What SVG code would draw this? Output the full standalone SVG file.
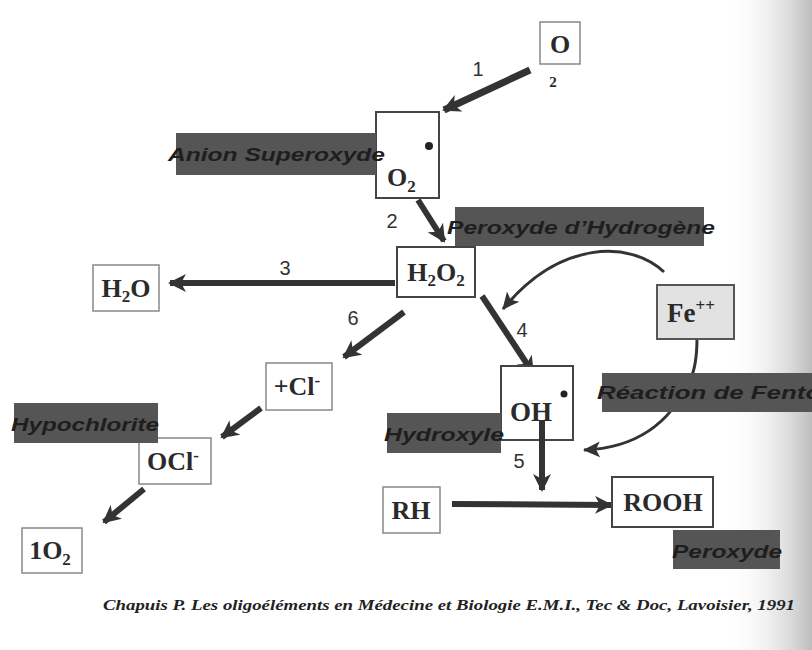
<svg xmlns="http://www.w3.org/2000/svg" width="812" height="650" viewBox="0 0 812 650">
<style>
.box{fill:#fff;stroke:#888;stroke-width:1.5}
.boxd{fill:#fff;stroke:#444;stroke-width:2}
.chem{font-family:"Liberation Serif",serif;font-weight:bold;font-size:26px;fill:#2a2a2a}
.sub{font-size:17px}
.lab{fill:#555}
.labt{font-family:"Liberation Sans",Arial,sans-serif;font-weight:bold;font-style:italic;font-size:18px;fill:#1e1e1e}
.num{font-family:"Liberation Sans",Arial,sans-serif;font-size:20px;fill:#333}
.arr{stroke:#333;stroke-width:6;fill:none;marker-end:url(#ah)}
.arrt{stroke:#333;stroke-width:3;fill:none}
.cap{font-family:"Liberation Serif",serif;font-weight:bold;font-style:italic;font-size:15px;fill:#222}
</style>
<defs>
<marker id="ah" markerUnits="userSpaceOnUse" markerWidth="20" markerHeight="18" refX="16" refY="9" orient="auto">
<path d="M0,0 L18,9 L0,18 L5,9 Z" fill="#333"/>
</marker>
<marker id="ah2" markerUnits="userSpaceOnUse" markerWidth="20" markerHeight="18" refX="16" refY="9" orient="auto">
<path d="M0,1 L17,9 L0,17 L4,9 Z" fill="#333"/>
</marker>
<linearGradient id="shade" x1="0" y1="0" x2="1" y2="0">
<stop offset="0" stop-color="#fff" stop-opacity="0"/>
<stop offset="1" stop-color="#bdbdbd"/>
</linearGradient>
</defs>
<rect width="812" height="650" fill="#fff"/>
<rect x="725" y="0" width="87" height="650" fill="url(#shade)"/>

<g id="connectors">
<line class="arr" x1="530" y1="70" x2="444" y2="110" style="stroke-width:7"/>
<line class="arr" x1="418" y1="200" x2="444" y2="241"/>
<line class="arr" x1="395" y1="283" x2="170" y2="283"/>
<line class="arr" x1="404" y1="312" x2="344" y2="357"/>
<line class="arr" x1="482" y1="296" x2="533" y2="373"/>
<line class="arr" x1="261" y1="408" x2="222" y2="437"/>
<line class="arr" x1="144" y1="489" x2="104" y2="522"/>
<line class="arr" x1="452" y1="504" x2="611" y2="505"/>
<path class="arrt" d="M664,272 C630,240 560,240 503,309" marker-end="url(#ah2)"/>
<path class="arrt" d="M697,338 C697,360 694,372 690,380 C672,420 640,448 584,450" marker-end="url(#ah2)"/>
</g>

<g id="n-o2">
<rect class="box" x="540" y="22" width="40" height="42"/>
<text class="chem" x="560" y="53" text-anchor="middle">O</text>
<text class="chem" x="553" y="87" text-anchor="middle" style="font-size:15px">2</text>
</g>
<text class="num" x="478" y="76" text-anchor="middle">1</text>

<g id="n-o2rad">
<rect class="boxd" x="376" y="112" width="63" height="86"/>
<text class="chem" x="387" y="186">O<tspan class="sub" dy="6">2</tspan></text>
<circle cx="429" cy="146" r="4" fill="#222"/>
</g>
<g id="lab-anion">
<rect class="lab" x="176" y="133" width="200" height="42"/>
<text class="labt" x="168" y="161" textLength="217" lengthAdjust="spacingAndGlyphs">Anion Superoxyde</text>
</g>
<text class="num" x="392" y="228" text-anchor="middle">2</text>

<g id="lab-peroxyde-h">
<rect class="lab" x="455" y="207" width="249" height="39"/>
<text class="labt" x="447" y="234" textLength="268" lengthAdjust="spacingAndGlyphs">Peroxyde d’Hydrogène</text>
</g>
<g id="n-h2o2">
<rect class="boxd" x="397" y="247" width="78" height="50"/>
<text class="chem" x="436" y="281" text-anchor="middle">H<tspan class="sub" dy="5">2</tspan><tspan dy="-5">O</tspan><tspan class="sub" dy="5">2</tspan></text>
</g>
<text class="num" x="285" y="275" text-anchor="middle">3</text>

<g id="n-h2o">
<rect class="box" x="93" y="265" width="66" height="46"/>
<text class="chem" x="126" y="297" text-anchor="middle">H<tspan class="sub" dy="5">2</tspan><tspan dy="-5">O</tspan></text>
</g>

<text class="num" x="353" y="325" text-anchor="middle">6</text>
<text class="num" x="522" y="337" text-anchor="middle">4</text>

<g id="n-fe">
<rect x="657" y="285" width="77" height="54" fill="#e2e2e2" stroke="#555" stroke-width="2"/>
<text class="chem" x="667" y="322" style="font-size:27px">Fe<tspan class="sub" dy="-11">++</tspan></text>
</g>

<g id="n-cl">
<rect class="box" x="266" y="363" width="66" height="47"/>
<text class="chem" x="297" y="395" text-anchor="middle">+Cl<tspan class="sub" dy="-9">-</tspan></text>
</g>

<g id="n-ocl">
<rect class="box" x="139" y="438" width="72" height="46"/>
<text class="chem" x="173" y="470" text-anchor="middle">OCl<tspan class="sub" dy="-9">-</tspan></text>
</g>
<g id="lab-hypo">
<rect class="lab" x="14" y="403" width="144" height="40"/>
<text class="labt" x="11" y="431" textLength="148" lengthAdjust="spacingAndGlyphs">Hypochlorite</text>
</g>

<g id="n-1o2">
<rect class="box" x="22" y="528" width="60" height="45"/>
<text class="chem" x="50" y="559" text-anchor="middle">1O<tspan class="sub" dy="6">2</tspan></text>
</g>

<g id="lab-fenton">
<rect class="lab" x="602" y="373" width="210" height="39"/>
<text class="labt" x="597" y="399" textLength="240" lengthAdjust="spacingAndGlyphs">Réaction de Fenton</text>
</g>

<g id="n-oh">
<rect class="boxd" x="501" y="366" width="72" height="74"/>
<text class="chem" x="510" y="421" style="font-size:27px">OH</text>
<circle cx="564" cy="394" r="3.5" fill="#222"/>
</g>
<g id="lab-hydroxyle">
<rect class="lab" x="387" y="413" width="114" height="40"/>
<text class="labt" x="384" y="441" textLength="120" lengthAdjust="spacingAndGlyphs">Hydroxyle</text>
</g>
<line class="arr" x1="542" y1="420" x2="542" y2="490"/>
<text class="num" x="519" y="468" text-anchor="middle">5</text>

<g id="n-rh">
<rect class="box" x="383" y="487" width="57" height="46"/>
<text class="chem" x="411" y="519" text-anchor="middle">RH</text>
</g>

<g id="n-rooh">
<rect class="boxd" x="612" y="477" width="101" height="50"/>
<text class="chem" x="663" y="511" text-anchor="middle">ROOH</text>
</g>

<g id="lab-peroxyde">
<rect class="lab" x="673" y="530" width="107" height="39"/>
<text class="labt" x="672" y="558" textLength="110" lengthAdjust="spacingAndGlyphs">Peroxyde</text>
</g>

<text class="cap" x="103" y="610" textLength="692" lengthAdjust="spacingAndGlyphs">Chapuis P. Les oligoéléments en Médecine et Biologie  E.M.I., Tec &amp; Doc, Lavoisier, 1991</text>
</svg>
